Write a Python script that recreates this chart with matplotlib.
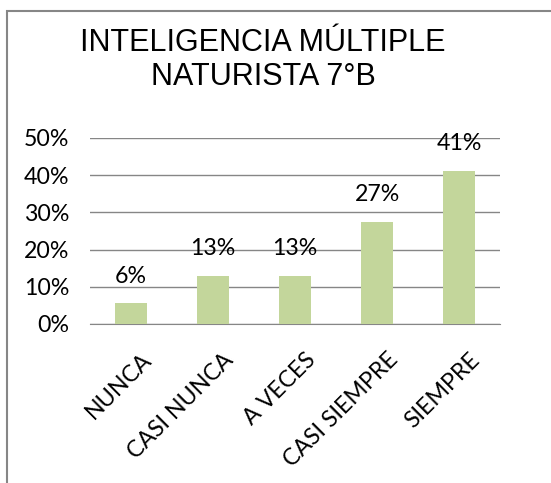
import matplotlib
matplotlib.use("Agg")
import matplotlib.pyplot as plt
from matplotlib.patches import Rectangle
from matplotlib.ticker import FuncFormatter, MultipleLocator

categories = ["NUNCA", "CASI NUNCA", "A VECES", "CASI SIEMPRE", "SIEMPRE"]
values = [0.056, 0.129, 0.129, 0.274, 0.411]
labels = ["6%", "13%", "13%", "27%", "41%"]
title = "INTELIGENCIA MÚLTIPLE\nNATURISTA 7°B"

W, H = 551, 483
FS = 16.7
fig = plt.figure(figsize=(W / 100, H / 100), dpi=100)
fig.patches.append(Rectangle((7 / W, -0.1), 1.2, 1 - 11 / H + 0.1, transform=fig.transFigure,
                             fill=False, edgecolor="#868686", linewidth=1.5))

ax = fig.add_axes([90 / W, 1 - 324 / H, 410 / W, 186 / H])
x = range(len(categories))
ax.bar(x, values, width=0.4, color="#c3d69b", zorder=3)
ax.set_xlim(-0.5, len(categories) - 0.5)
ax.set_ylim(0, 0.5)
ax.yaxis.set_major_locator(MultipleLocator(0.1))
ax.yaxis.set_major_formatter(FuncFormatter(lambda v, p: f"{v*100:.0f}%"))
ax.grid(axis="y", color="#868686", linewidth=1, zorder=0)
for s in ["left", "right", "top"]:
    ax.spines[s].set_visible(False)
ax.spines["bottom"].set_color("#868686")
ax.tick_params(axis="y", length=0, pad=15, labelsize=FS)
ax.tick_params(axis="x", length=0, pad=0, labelsize=FS)
for t in ax.get_yticklabels():
    t.set_fontfamily("Lato")
ax.set_xticks(list(x))
ax.set_xticklabels(categories, rotation=45, ha="right", va="top", rotation_mode="anchor",
                   family="Lato")
for t in ax.get_xticklabels():
    t.set_transform(t.get_transform() + matplotlib.transforms.ScaledTranslation(10 / 100, -25 / 100, fig.dpi_scale_trans))
for xi, v, lab in zip(x, values, labels):
    ax.annotate(lab, (xi, v), xytext=(0, 12), textcoords="offset points", ha="center",
                va="bottom", fontsize=FS, family="Lato")

fig.text(263 / W, 1 - 60 / H, title, ha="center", va="center", fontsize=22,
         family="Liberation Sans", linespacing=1.15)
fig.savefig("out.png", dpi=100)
